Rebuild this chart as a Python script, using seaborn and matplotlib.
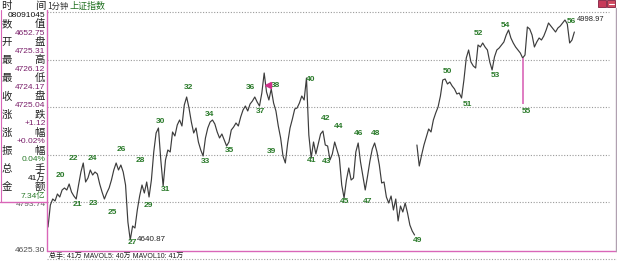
import numpy as np
import pandas as pd
import matplotlib
matplotlib.use("Agg")
import matplotlib.pyplot as plt
from matplotlib.patches import Rectangle
import seaborn as sns

# ---- intraday 1-minute index series (morning / afternoon sessions) ----
morning_prices = [
    4661.97, 4697.79, 4707.56, 4704.30, 4715.70, 4710.81, 4722.21, 4725.47, 4722.21, 4731.98,
    4718.95, 4712.44, 4707.56, 4730.35, 4751.51, 4766.17, 4735.23, 4741.75, 4754.77, 4746.63,
    4751.51, 4748.26, 4731.98, 4718.95, 4707.56, 4717.33, 4725.47, 4738.49, 4754.77, 4766.17,
    4754.77, 4762.91, 4751.51, 4730.35, 4670.11, 4640.87, 4663.60, 4660.35, 4689.65, 4712.44,
    4730.35, 4717.33, 4735.23, 4710.81, 4738.49, 4784.07, 4815.01, 4823.15, 4771.05, 4728.72,
    4771.05, 4787.33, 4784.07, 4816.63, 4810.12, 4828.03, 4836.17, 4826.40, 4860.59, 4873.61,
    4855.71, 4832.91, 4815.01, 4823.15, 4800.35, 4787.33, 4777.56, 4806.87, 4823.15, 4832.91,
    4836.17, 4829.66, 4816.63, 4806.87, 4813.38, 4803.61, 4793.84, 4800.35, 4819.89, 4824.77,
    4831.29, 4826.40, 4841.05, 4852.45, 4858.96, 4850.82, 4862.22, 4867.10, 4873.61, 4865.47,
    4858.96, 4880.13, 4912.69, 4881.75, 4868.73, 4886.64, 4863.85, 4850.82, 4826.40, 4806.87,
    4777.56, 4766.17, 4798.73, 4823.15, 4837.80, 4854.08, 4855.71, 4863.85, 4875.24, 4868.73,
    4904.55, 4811.75, 4774.31, 4800.35, 4780.82, 4797.10, 4813.38, 4818.26, 4795.47, 4793.84,
    4771.05, 4780.82, 4800.35, 4787.33, 4774.31, 4730.35, 4709.19, 4738.49, 4758.03, 4738.49,
    4741.75, 4784.07, 4798.73, 4767.79, 4745.00, 4722.21, 4745.00, 4769.42, 4788.96, 4798.73,
    4784.07, 4762.91, 4733.61, 4735.23, 4710.81, 4701.05, 4712.44, 4689.65, 4707.56, 4671.74,
    4696.16, 4686.39, 4701.05, 4684.77, 4665.23, 4655.46, 4648.95]
afternoon_prices = [
    4795.47, 4761.28, 4779.19, 4795.47, 4808.49, 4821.52, 4816.63, 4836.17, 4847.57, 4857.33,
    4875.24, 4901.29, 4902.92, 4894.78, 4898.03, 4891.52, 4886.64, 4878.50, 4880.13, 4871.99,
    4901.29, 4937.11, 4950.13, 4930.59, 4924.08, 4920.83, 4958.27, 4955.01, 4961.53, 4955.01,
    4950.13, 4930.59, 4917.57, 4938.73, 4950.13, 4953.39, 4958.27, 4963.15, 4974.55, 4982.69,
    4969.67, 4961.53, 4955.01, 4950.13, 4945.25, 4937.11, 4941.99, 4987.57, 4984.32, 4974.55,
    4955.01, 4963.15, 4969.67, 4966.41, 4972.92, 4982.69, 4994.09, 4989.20, 4984.32, 4979.43,
    4985.95, 4989.20, 4994.09, 4998.97, 4992.46, 4961.53, 4966.41, 4979.43]
afternoon_start = 157

# single-minute wick down to a spike low
spike_minute, spike_low = 202, 4862.22

# wave-count labels (text, minute, price)
wave_labels = [str(n) for n in range(20, 57)]
wave_minutes = [5.1, 12.3, 10.6, 19.1, 19.1, 27.2, 31.1, 35.7, 39.1, 42.6,
                47.7, 50.2, 59.6, 66.8, 68.9, 77.4, 86.0, 90.6, 97.0, 95.3,
                111.9, 112.3, 118.3, 118.7, 123.8, 126.0, 132.3, 136.2, 139.6, 157.4,
                169.8, 178.3, 183.4, 190.2, 194.5, 203.4, 222.6]
wave_prices = [4745.0, 4699.4, 4774.3, 4701.0, 4774.3, 4684.8, 4788.9, 4637.5, 4771.0, 4696.2,
               4834.5, 4723.8, 4888.3, 4769.4, 4845.9, 4785.7, 4888.3, 4850.8, 4893.1, 4784.1,
               4902.9, 4771.0, 4839.4, 4769.4, 4824.8, 4702.7, 4815.0, 4702.7, 4815.0, 4640.8,
               4915.9, 4862.2, 4976.2, 4909.4, 4989.2, 4849.2, 4997.3]

low_value, high_value = 4640.87, 4998.97
grid_levels = [4702.6, 4779.9, 4857.2, 4934.5, 5011.8]
axis_labels = ["4625.30", "4793.74"]

panel_rows = [("时", "间", None), (None, None, "08091045"), ("数", "值", None), (None, None, "4652.75"),
              ("开", "盘", None), (None, None, "4725.31"), ("最", "高", None), (None, None, "4726.12"),
              ("最", "低", None), (None, None, "4724.17"), ("收", "盘", None), (None, None, "4725.04"),
              ("涨", "跌", None), (None, None, "+1.12"), ("涨", "幅", None), (None, None, "+0.02%"),
              ("振", "幅", None), (None, None, "0.04%"), ("总", "手", None), (None, None, "41万"),
              ("金", "额", None), (None, None, "7.34亿")]
panel_value_colors = {"08091045": "#101010", "4652.75": "#7a1f6a", "4725.31": "#7a1f6a",
                      "4726.12": "#7a1f6a", "4724.17": "#7a1f6a", "4725.04": "#7a1f6a",
                      "+1.12": "#7a1f6a", "+0.02%": "#7a1f6a", "0.04%": "#2a7a2a",
                      "41万": "#101010", "7.34亿": "#2a7a2a"}
volume_text = "总手: 41万 MAVOL5: 40万 MAVOL10: 41万"

# ---- styling ----
sns.set_theme(style="white")
plt.rcParams["font.family"] = ["Liberation Sans", "Noto Sans CJK SC", "DejaVu Sans"]
CJK = ["Noto Sans CJK SC", "DejaVu Sans"]
PINK = "#d966b8"
GREEN = "#2a7a2a"
LINE = "#3c3c3c"

W, H = 617, 262
fig = plt.figure(figsize=(W / 100, H / 100), dpi=100)
fig.patch.set_facecolor("white")


def px_box(x0, y0, x1, y1):
    return [x0 / W, 1 - y1 / H, (x1 - x0) / W, (y1 - y0) / H]


ax = fig.add_axes(px_box(47, 8, 615, 251))
ax.set_xlim(-0.43, 241.3)
ax.set_ylim(4622.9, 5018.5)
ax.set_facecolor("white")
for s in ax.spines.values():
    s.set_visible(False)

for lv in grid_levels:
    ax.axhline(lv, xmax=0.99, color="#9a9a9a", lw=0.8, ls=(0, (1, 1.5)), zorder=1)

df = pd.concat([
    pd.DataFrame({"minute": np.arange(len(morning_prices)), "price": morning_prices, "session": "am"}),
    pd.DataFrame({"minute": afternoon_start + np.arange(len(afternoon_prices)),
                  "price": afternoon_prices, "session": "pm"}),
], ignore_index=True)
sns.lineplot(data=df, x="minute", y="price", units="session", color=LINE, lw=0.85, ax=ax,
             estimator=None, sort=False, zorder=3)
spike_top = df.loc[df.minute == spike_minute, "price"].iloc[0]
ax.vlines(spike_minute, spike_low, spike_top, color=PINK, lw=1.2, zorder=4)
ax.set_xlabel("")
ax.set_ylabel("")
ax.set_xticks([])
ax.set_yticks([])

for t, mx, py in zip(wave_labels, wave_minutes, wave_prices):
    ax.text(mx, py, t, color=GREEN, fontsize=6, fontweight="bold",
            ha="center", va="center", zorder=5)
ax.text(37.6, low_value, f"{low_value:.2f}", color="#202020", fontsize=5.8,
        ha="left", va="center", zorder=5)
ax.text(225.0, high_value, f"{high_value:.2f}", color="#202020", fontsize=5.4,
        ha="left", va="center", zorder=4)
# marker near 38
ax.plot([93.5], [4893.0], marker="<", color="#d0308a", ms=4, zorder=6)

# ---- overlay in pixel space for frame and side panel ----
ov = fig.add_axes([0, 0, 1, 1], zorder=10)
ov.set_xlim(0, W)
ov.set_ylim(H, 0)
ov.axis("off")

ov.add_patch(Rectangle((0, 10), 46.5, 192, facecolor="white", edgecolor="none", zorder=1))
ov.plot([46.5, 46.5], [10, 251], color=PINK, lw=1.0, zorder=3)
ov.plot([0, 46.5], [202, 202], color=PINK, lw=1.0, zorder=3)
ov.plot([0.5, 0.5], [10, 202], color=PINK, lw=0.8, zorder=3)
ov.plot([46.5, W], [251, 251], color=PINK, lw=1.0, zorder=3)
ov.plot([615.5, 615.5], [8, 251], color="#b0a0b0", lw=1.0, zorder=3)
ov.plot([47, W], [259, 259], color="#a0a0a0", lw=0.8, ls=(0, (1, 1.5)), zorder=2)

row_y0, row_dy = 6, 9.05
for i, (lft, rgt, val) in enumerate(panel_rows):
    y = row_y0 + i * row_dy
    if lft:
        ov.text(1.5, y, lft, fontsize=7.5, family=CJK, color="#202020", ha="left", va="center", zorder=4)
        ov.text(45, y, rgt, fontsize=7.5, family=CJK, color="#202020", ha="right", va="center", zorder=4)
    if val:
        ov.text(45.5, y, val, fontsize=6, color=panel_value_colors[val],
                family=["Liberation Sans", "Noto Sans CJK SC"], ha="right", va="center", zorder=4)

ov.text(47, 6, "1分钟", fontsize=6, family=CJK, color="#303030", ha="left", va="center", zorder=4)
ov.text(70, 6, "上证指数", fontsize=6.5, family=CJK, color="#1f6f1f", ha="left", va="center", zorder=4)

ov.text(45.5, 205, axis_labels[1], fontsize=6, color="#606060", ha="right", va="center", zorder=0)
ov.text(45.5, 250, axis_labels[0], fontsize=6, color="#505050", ha="right", va="center", zorder=4)

ov.text(49, 256, volume_text, fontsize=5, family=["Liberation Sans", "Noto Sans CJK SC"],
        color="#202020", ha="left", va="center", zorder=4)

ov.add_patch(Rectangle((598, 0), 8, 7, facecolor="#c83a5a", edgecolor="#802040", lw=0.6, zorder=4))
ov.add_patch(Rectangle((607, 0), 8, 7, facecolor="#d04a60", edgecolor="#802040", lw=0.6, zorder=4))
ov.plot([608.5, 613.5], [3.5, 3.5], color="white", lw=0.8, zorder=5)

fig.savefig("out.png", dpi=100, facecolor="white")
